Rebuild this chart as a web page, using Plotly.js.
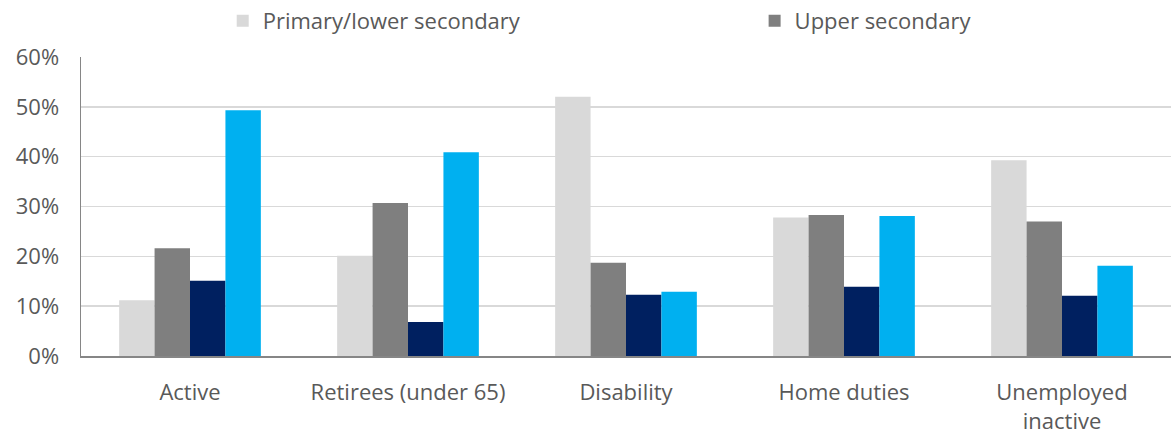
<!DOCTYPE html>
<html>
<head>
<meta charset="utf-8">
<script src="https://cdn.plot.ly/plotly-3.0.1.min.js"></script>
<style>html,body{margin:0;padding:0;background:#fff;}#chart{width:1171px;height:434px;}</style>
</head>
<body>
<div id="chart"></div>
<script>
const categories = ["Active", "Retirees (under 65)", "Disability", "Home duties", "Unemployed<br>inactive"];
const seriesNames = ["Primary/lower secondary", "Upper secondary", "Post-secondary", "Tertiary"];
const primaryLower = [11.2, 20.1, 52.0, 27.8, 39.3];
const upperSecondary = [21.6, 30.7, 18.7, 28.3, 27.0];
const postSecondary = [15.1, 6.8, 12.3, 13.9, 12.1];
const tertiary = [49.3, 40.9, 12.9, 28.1, 18.1];
const tickVals = [0, 10, 20, 30, 40, 50, 60];
const tickText = ["0%", "10%", "20%", "30%", "40%", "50%", "60%"];

const colors = ["#d9d9d9", "#7f7f7f", "#002060", "#00b0f0"];
const values = [primaryLower, upperSecondary, postSecondary, tertiary];
const shown = [true, true, false, false];
const legendRefs = ["legend", "legend2", "legend", "legend"];

const data = values.map((v, i) => ({
  type: "bar",
  x: categories,
  y: v,
  name: seriesNames[i],
  marker: {color: colors[i], line: {width: 0}},
  showlegend: shown[i],
  legend: legendRefs[i],
  hoverinfo: "x+y+name"
}));

const legendFont = {size: 22, color: "#595959"};
const layout = {
  width: 1171, height: 434,
  margin: {l: 81, r: 0, t: 56, b: 78},
  paper_bgcolor: "#fff", plot_bgcolor: "#fff",
  font: {family: "Open Sans, sans-serif", size: 22, color: "#595959"},
  barmode: "group",
  bargap: 0.35,
  bargroupgap: 0,
  xaxis: {
    showgrid: false, zeroline: false,
    showline: true, linecolor: "#868686", linewidth: 2,
    ticks: "", ticklabelstandoff: 16, tickfont: {size: 22, color: "#595959"}
  },
  yaxis: {
    range: [0, 60], tickvals: tickVals, ticktext: tickText,
    showgrid: true, gridcolor: "#d9d9d9", gridwidth: 1.5,
    zeroline: false, showline: true, linecolor: "#868686", linewidth: 1.5,
    ticks: "", ticklabelstandoff: 16, tickfont: {size: 22, color: "#595959"}
  },
  legend: {
    orientation: "h", x: 0.13, xanchor: "left", y: 1.12, yanchor: "middle",
    itemwidth: 30, font: legendFont, bgcolor: "rgba(0,0,0,0)"
  },
  legend2: {
    orientation: "h", x: 0.618, xanchor: "left", y: 1.12, yanchor: "middle",
    itemwidth: 30, font: legendFont, bgcolor: "rgba(0,0,0,0)"
  },
  showlegend: true
};

Plotly.newPlot("chart", data, layout, {staticPlot: true});
</script>
</body>
</html>
